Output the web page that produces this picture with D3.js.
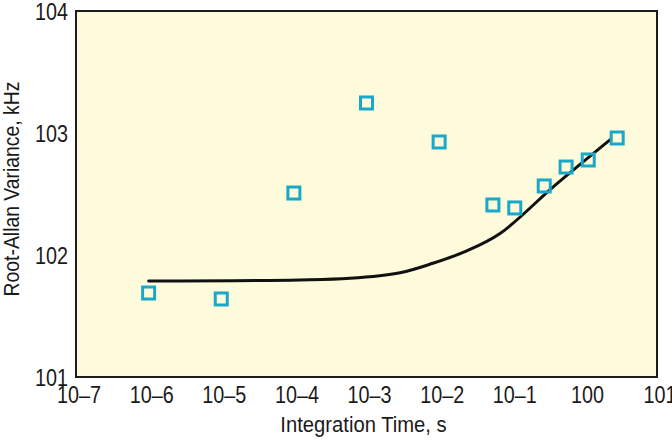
<!DOCTYPE html>
<html>
<head>
<meta charset="utf-8">
<script src="https://d3js.org/d3.v7.min.js"></script>
<style>
  body { margin: 0; background: #fff; }
  text { font-family: "Liberation Sans", Arial, sans-serif; fill: #1a1a1a; }
</style>
</head>
<body>
<svg id="chart" width="672" height="446"></svg>
<script>
  // axis ticks and labels (exponents written inline as on the original)
  var xTicks = [1e-7, 1e-6, 1e-5, 1e-4, 1e-3, 1e-2, 1e-1, 1, 10];
  var xTickLabels = ["10–7", "10–6", "10–5", "10–4", "10–3", "10–2", "10–1", "100", "101"];
  var yTicks = [10, 100, 1000, 10000];
  var yTickLabels = ["101", "102", "103", "104"];

  // measured points: integration time (s), root-Allan variance (kHz)
  var tau = [1e-6, 1e-5, 1e-4, 1e-3, 1e-2, 0.055, 0.11, 0.28, 0.56, 1.13, 2.83];
  var variance = [48.8, 43.6, 322, 1762, 844, 257, 243, 368, 526, 601, 910];

  // fitted curve
  var fitTau = [1e-6, 1.2e-4, 5.9e-4, 2.9e-3, 8.2e-3, 0.024, 0.069, 0.39, 2.25];
  var fitVariance = [61.2, 62.4, 64.4, 71.6, 85.5, 108, 150, 370, 877];

  var margin = {top: 11, right: 15, bottom: 69, left: 76},
      width = 672 - margin.left - margin.right,
      height = 446 - margin.top - margin.bottom;

  // the original face is a condensed sans; squeeze Liberation Sans to match
  var squeeze = 0.86;

  var svg = d3.select("#chart")
    .append("g")
      .attr("transform", "translate(" + margin.left + "," + margin.top + ")");

  var x = d3.scaleLog()
    .domain([1e-7, 10])
    .range([0, width]);

  var y = d3.scaleLog()
    .domain([10, 10000])
    .range([height, 0]);

  svg.append("rect")
    .attr("x", 0)
    .attr("y", 0)
    .attr("width", width)
    .attr("height", height)
    .attr("fill", "#fdfbdc")
    .attr("stroke", "#1c1c1c")
    .attr("stroke-width", 2);

  var xAxis = svg.append("g")
    .attr("transform", "translate(0," + height + ")")
    .call(d3.axisBottom(x)
      .tickValues(xTicks)
      .tickSize(0)
      .tickPadding(10)
      .tickFormat(function(d, i) { return xTickLabels[i]; }));
  xAxis.select(".domain").remove();
  xAxis.selectAll("text")
    .attr("dx", 3)
    .attr("transform", "scale(" + squeeze + ",1)")
    .style("font-size", "23px")
    .style("font-family", null);

  var yAxis = svg.append("g")
    .call(d3.axisLeft(y)
      .tickValues(yTicks)
      .tickSize(0)
      .tickPadding(8)
      .tickFormat(function(d, i) { return yTickLabels[i]; }));
  yAxis.select(".domain").remove();
  yAxis.selectAll("text")
    .attr("x", -8 / squeeze)
    .attr("dy", "0.36em")
    .attr("transform", "scale(" + squeeze + ",1)")
    .style("font-size", "23px")
    .style("font-family", null);

  var fit = fitTau.map(function(t, i) { return {t: t, v: fitVariance[i]}; });
  svg.append("path")
    .datum(fit)
    .attr("fill", "none")
    .attr("stroke", "#111")
    .attr("stroke-width", 3)
    .attr("stroke-linecap", "round")
    .attr("d", d3.line()
      .x(function(d) { return x(d.t); })
      .y(function(d) { return y(d.v); })
      .curve(d3.curveCatmullRom.alpha(0.5)));

  var pts = tau.map(function(t, i) { return {t: t, v: variance[i]}; });
  svg.selectAll(".pt")
    .data(pts)
    .enter()
    .append("rect")
      .attr("class", "pt")
      .attr("x", function(d) { return x(d.t) - 6; })
      .attr("y", function(d) { return y(d.v) - 6; })
      .attr("width", 12)
      .attr("height", 12)
      .attr("fill", "none")
      .attr("stroke", "#19a8c8")
      .attr("stroke-width", 3);

  svg.append("g")
    .attr("transform", "translate(" + (width / 2 - 3) + "," + (height + 55) + ") scale(0.92,1)")
    .append("text")
      .attr("text-anchor", "middle")
      .style("font-size", "22px")
      .text("Integration Time, s");

  svg.append("g")
    .attr("transform", "translate(" + (-57) + "," + (height / 2 - 5) + ") rotate(-90) scale(0.88,1)")
    .append("text")
      .attr("text-anchor", "middle")
      .style("font-size", "22px")
      .text("Root-Allan Variance, kHz");
</script>
</body>
</html>
